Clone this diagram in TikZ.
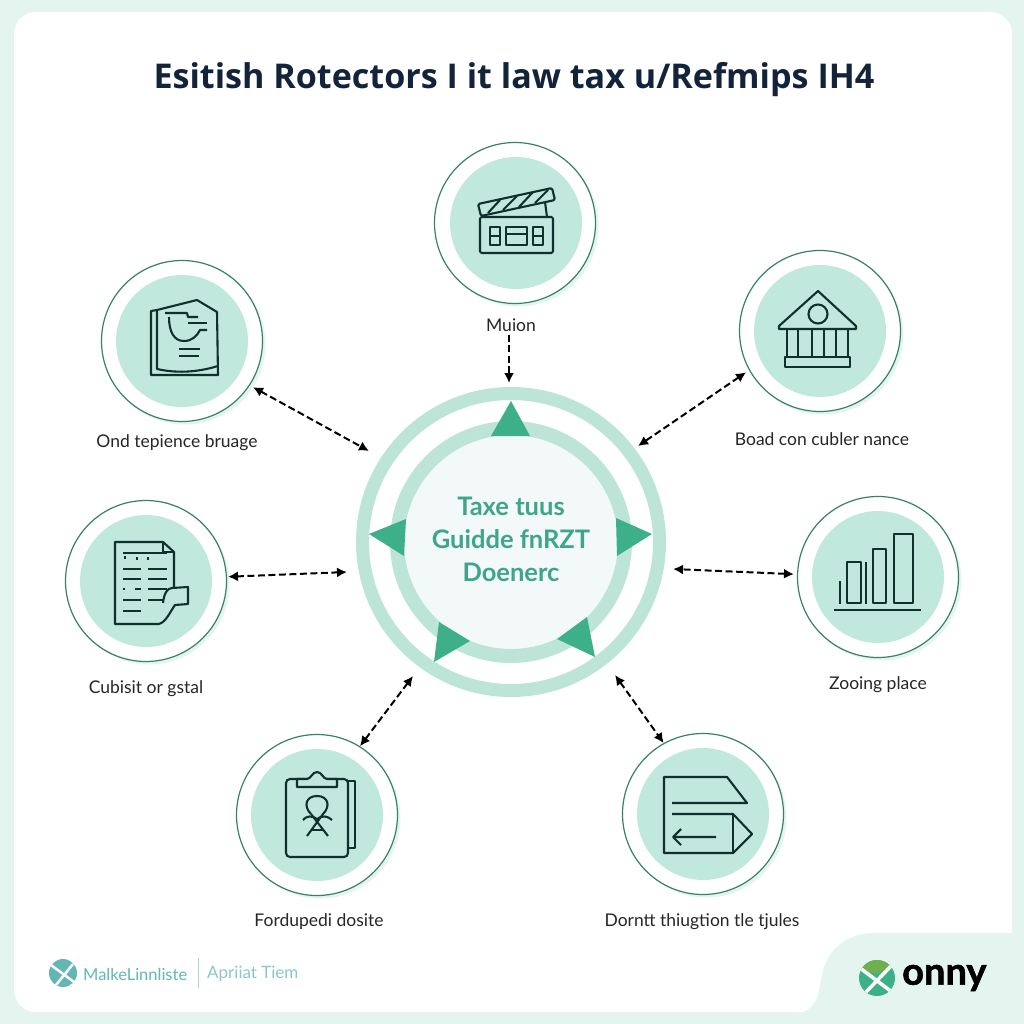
\documentclass[tikz,border=0pt]{standalone}
\usepackage{fontspec}
\setmainfont{Lato}
\newfontfamily\headfont{Open Sans}
\newfontfamily\heavyfont[BoldFeatures={FakeBold=1.4}]{Lato}
\usetikzlibrary{shadows,arrows.meta}
\definecolor{pagemint}{HTML}{E4F4EF}
\definecolor{discmint}{HTML}{C0E8DC}
\definecolor{ringmint}{HTML}{BCE5D8}
\definecolor{coremint}{HTML}{F3F8F8}
\definecolor{edgegreen}{HTML}{37806F}
\definecolor{arrowgreen}{HTML}{3DB08A}
\definecolor{textgreen}{HTML}{3DA58A}
\definecolor{inkdark}{HTML}{10302E}
\definecolor{titleink}{HTML}{12233A}
\definecolor{logoteal}{HTML}{62B7B5}
\definecolor{logolime}{HTML}{6FAF4E}
\tikzset{
  iconring/.style={circle,draw=edgegreen,line width=1.2pt,fill=white,inner sep=0pt,minimum size=161pt,
    general shadow={shadow xshift=3pt,shadow yshift=-3pt,fill=pagemint}},
  icondisc/.style={circle,fill=discmint,inner sep=0pt,minimum size=132pt},
  caption/.style={inner sep=0pt,text=black!85,font=\fontsize{17.5}{20}\selectfont},
  link/.style={draw,line width=2pt,dash pattern=on 7pt off 3.5pt,<->,>={Latex[length=10pt,width=10pt]}},
  glyph/.style={draw=inkdark,line width=2.1pt,line join=round},
  pointer/.style={fill=arrowgreen},
}
\begin{document}
\begin{tikzpicture}[x=1pt,y=-1pt]
\useasboundingbox (0,0) rectangle (1024,1024);
\fill[pagemint] (0,0) rectangle (1024,1024);
\fill[white,rounded corners=22pt] (14,12) rectangle (1012,1012);
% corner panel
\fill[pagemint] (1024,933) -- (870,933) .. controls (840,936) and (826,955) .. (822,975) .. controls (818,995) and (818,1006) .. (803,1012) -- (1024,1012) -- cycle;

\node[inner sep=0pt,text=titleink,font=\headfont\bfseries\fontsize{34.1}{38}\selectfont] (title) at (514,80) {Esitish Rotectors I it law tax u/Refmips IH4};

% hub
\node[circle,draw=ringmint,line width=13pt,fill=white,inner sep=0pt,minimum size=297pt] (hub) at (511,542) {};
\node[circle,draw=ringmint,line width=14pt,fill=coremint,inner sep=0pt,minimum size=228pt] (core) at (511,542) {};
\node[inner sep=0pt,align=center,text=textgreen,font=\bfseries\fontsize{25.5}{33}\selectfont] (hubtext) at (511,539) {Taxe tuus\\Guidde fnRZT\\Doenerc};
\fill[pointer] (511,401) -- (530,436) -- (491,436) -- cycle;
\fill[pointer] (369,534) -- (406,519) -- (404,556) -- cycle;
\fill[pointer] (652,534) -- (616,518) -- (617,556) -- cycle;
\fill[pointer] (434,662) -- (439,622) -- (470,641) -- cycle;
\fill[pointer] (595,657) -- (587,617) -- (557,639) -- cycle;

% outer circles
\node[iconring] (ringclap) at (515,223) {};
\node[icondisc] (discclap) at (516,223) {};
\node[iconring] (ringbook) at (182,341) {};
\node[icondisc] (discbook) at (182,341) {};
\node[iconring] (ringbank) at (820,331) {};
\node[icondisc] (discbank) at (820,331) {};
\node[iconring] (ringpage) at (146,581) {};
\node[icondisc] (discpage) at (146,581) {};
\node[iconring] (ringbars) at (878,577) {};
\node[icondisc] (discbars) at (878,577) {};
\node[iconring] (ringclip) at (317,815) {};
\node[icondisc] (discclip) at (317,815) {};
\node[iconring] (ringflag) at (703,814) {};
\node[icondisc] (discflag) at (703,814) {};

\node[caption] (capclap) at (511,325) {Muion};
\node[caption] (capbook) at (177,443) {Ond tepience bruage};
\node[caption] (capbank) at (822,439) {Boad con cubler nance};
\node[caption] (cappage) at (146,689) {Cubisit or gstal};
\node[caption] (capbars) at (878,685) {Zooing place};
\node[caption] (capclip) at (319,922) {Fordupedi dosite};
\node[caption] (capflag) at (702,922) {Dorntt thiugtion tle tjules};

% ends on the hub side
\coordinate (hubn) at (509,383);
\coordinate (hubnw) at (369,451);
\coordinate (hubne) at (638,446);
\coordinate (hubw) at (347,572);
\coordinate (hube) at (673,569);
\coordinate (hubsw) at (413,676);
\coordinate (hubse) at (615,675);

\path[draw,line width=2pt,dash pattern=on 7pt off 3.5pt,->,>={Latex[length=10pt,width=10pt]}] (capclap.south -| hubn) ++(0,3) -- (hubn);
\path[link] (ringbook.-33) ++(3,2) -- (hubnw);
\path[link] (ringbank.209) ++(-3,2) -- (hubne);
\path[link] (ringpage.3) ++(1,0) -- (hubw);
\path[link] (ringbars.178) ++(-3,0) -- (hube);
\path[link] (ringclip.58) -- (hubsw);
\path[link] (hubse) -- (ringflag.119);

% clapper board
\draw[glyph,rounded corners=1.5pt] (480,217) rectangle (553,253);
\draw[glyph,rounded corners=1.5pt] (478,204) -- (552,188) -- (555,200) -- (481,216) -- cycle;
\draw[glyph] (488,213) -- (500,200) (503,210) -- (517,196) (519,207) -- (533,192) (535,203) -- (548,190);
\draw[glyph] (545,202) -- (547,217);
\draw[glyph] (490,227) rectangle (500,245) (490,236) -- (500,236);
\draw[glyph] (506,227) rectangle (527,245) (506,234) -- (527,234);
\draw[glyph] (533,227) rectangle (543,245) (533,236) -- (543,236);

% book
\draw[glyph] (157,310) -- (151,311) -- (151,375) -- (218,375) -- (217,312) -- (197,300) -- cycle;
\draw[glyph] (157,310) -- (157,369) .. controls (175,373) and (195,373) .. (218,366);
\draw[glyph] (165,313) -- (187,313) -- (188,317) -- (198,317);
\draw[glyph] (169,317) .. controls (169,332) and (174,341) .. (184,341) .. controls (192,341) and (197,336) .. (200,330) -- (207,330);
\draw[glyph] (188,323) -- (207,323);
\draw[glyph] (179,349) -- (200,349) (179,356) -- (199,356);

% bank
\draw[glyph] (818,291) -- (856,326) -- (856,329) -- (779,329) -- (779,326) -- cycle;
\draw[glyph] (818,314) circle[radius=9.5];
\draw[glyph] (787,329) -- (787,357) (798,329) -- (798,357) (812,329) -- (812,357) (824,329) -- (824,357) (836,329) -- (836,357) (848,329) -- (848,357);
\draw[glyph] (785,357) rectangle (850,367);

% bars
\draw[glyph] (840,581) -- (840,604);
\draw[glyph] (847,562) rectangle (861,603);
\draw[glyph] (866,562) -- (866,604);
\draw[glyph] (873,549) rectangle (886,603);
\draw[glyph] (894,534) rectangle (913,603);
\draw[glyph] (834,610) -- (921,610);

% page with curl
\draw[glyph] (159,624) -- (115,624) -- (115,542) -- (163,542) -- (174,552) -- (174,588);
\draw[glyph] (163,542) -- (163,552) -- (174,552);
\draw[glyph] (163,603) .. controls (164,594) and (167,588) .. (172,588) -- (188,587) -- (188,604) -- (175,605) .. controls (170,612) and (166,622) .. (159,624);
\draw[glyph] (123,553) -- (167,553);
\draw[glyph] (125,556) -- (125,559) (137,557) -- (137,560) (148,557) -- (148,560);
\draw[glyph] (123,569) -- (141,569) (148,569) -- (167,569);
\draw[glyph] (123,579) -- (141,579) (148,579) -- (167,579);
\draw[glyph] (123,589) -- (125,589) (135,589) -- (141,589) (148,589) -- (167,589);
\draw[glyph] (123,600) -- (141,600) (148,600) -- (163,600);
\draw[glyph] (123,611) -- (141,611);

% clipboard
\draw[glyph,rounded corners=4pt] (286,779) rectangle (348,857);
\draw[glyph] (348,781) -- (355,781) -- (355,848) -- (348,848);
\draw[glyph,fill=discmint] (297,779) -- (297,787) -- (337,787) -- (337,779) -- (327,779) .. controls (323,779) and (322,772) .. (317,772) .. controls (312,772) and (311,779) .. (307,779) -- cycle;
\draw[glyph] (311,814) .. controls (303,806) and (306,796) .. (317,796) .. controls (328,796) and (331,806) .. (323,814) -- (307,836);
\draw[glyph] (311,814) -- (328,836);
\draw[glyph] (303,820) .. controls (306,816) and (312,815) .. (317,819) .. controls (322,815) and (328,816) .. (332,820);
\draw[glyph] (311,830) -- (324,830);

% ribbon sheets
\draw[glyph] (672,803) -- (747,803) -- (727,777) -- (664,777) -- (664,853) -- (733,853) -- (752,834) -- (733,814) -- (672,814);
\draw[glyph] (733,814) -- (733,853);
\draw[glyph] (716,837) -- (673,837) (681,829) -- (673,837) -- (681,845);

% footer marks
\node[circle,fill=logoteal,inner sep=0pt,minimum size=28pt] (marksmall) at (63,973) {};
\draw[white,line width=2.5pt] (73,964) -- (56,985) (51,965) -- (74,982);
\node[anchor=west,inner sep=0pt,text=logoteal,font=\fontsize{16.5}{20}\selectfont] (brand) at (83,974) {MalkeLinnliste};
\node[inner sep=0pt,minimum width=1pt,minimum height=30pt,fill=logoteal!60] (divider) at (198,973) {};
\node[anchor=west,inner sep=0pt,text=logoteal!75,font=\fontsize{17}{20}\selectfont] (tagline) at (207,974) {Apriiat Tiem};
\node[circle,fill=arrowgreen,inner sep=0pt,minimum size=36pt] (markbig) at (877,978) {};
\begin{scope}
\clip (877,978) circle[radius=18];
\fill[logolime] (858,968) .. controls (868,976) and (882,974) .. (893,967) -- (893,958) -- (858,958) -- cycle;
\draw[white,line width=3.5pt] (892,965) -- (866,992) (860,968) -- (892,992);
\end{scope}
\node[anchor=west,inner sep=0pt,text=black,font=\heavyfont\bfseries\fontsize{38}{40}\selectfont] (onnyname) at (902,978) {onny};
\end{tikzpicture}
\end{document}
